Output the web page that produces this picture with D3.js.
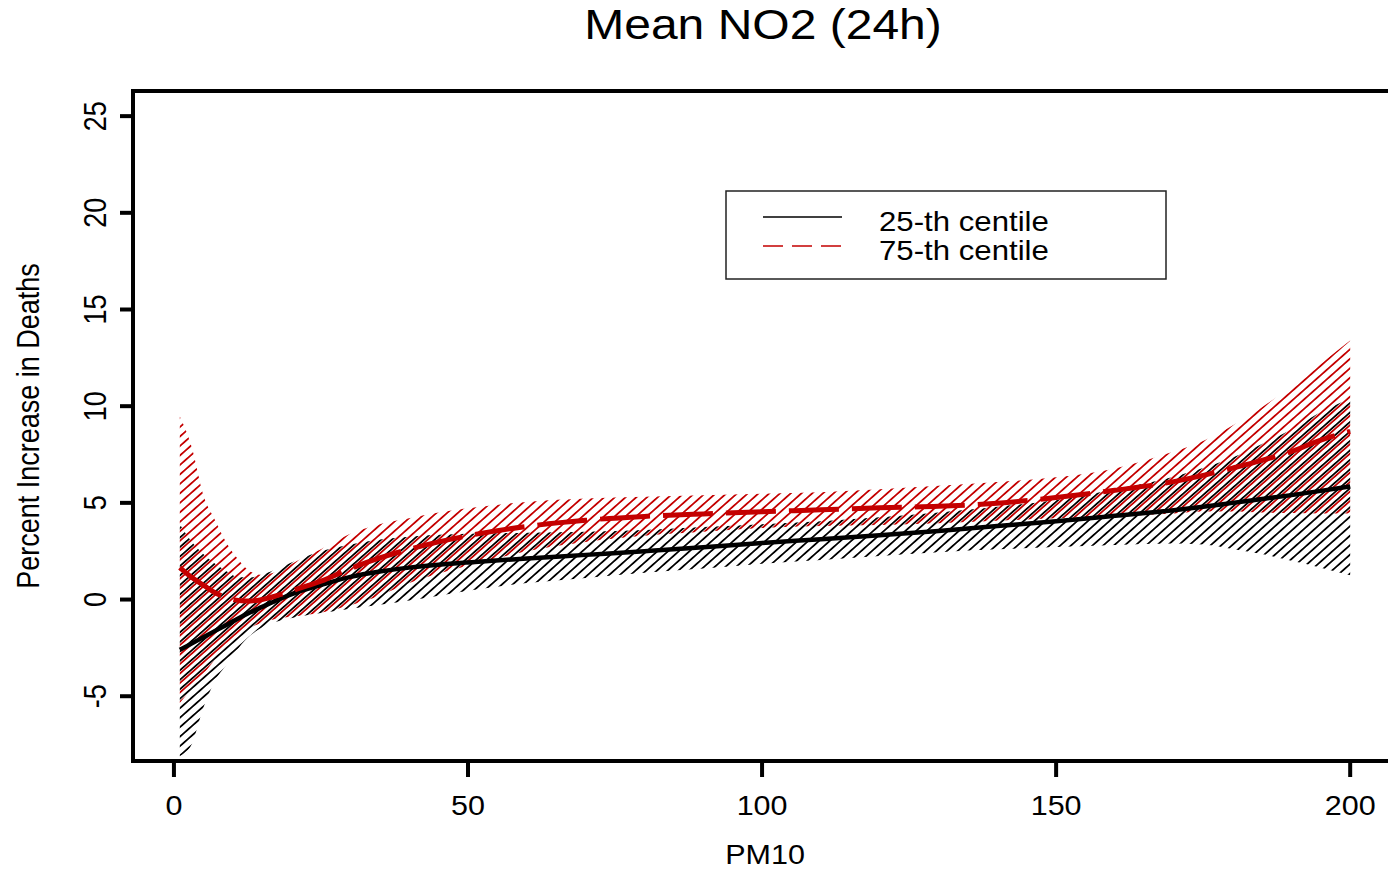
<!DOCTYPE html>
<html>
<head>
<meta charset="utf-8">
<script src="https://cdn.jsdelivr.net/npm/d3@7"></script>
<style>
  html, body { margin: 0; padding: 0; background: #fff; }
  svg { display: block; }
  text { font-family: "Liberation Sans", Arial, sans-serif; fill: #000; }
</style>
</head>
<body>
<svg id="chart" width="1388" height="870"></svg>
<script>
// ---- data ----
const pm10 = [1, 3, 5, 7, 9, 11, 13, 15, 18, 21, 25, 30, 35, 40, 45, 50, 60, 70, 80, 90, 100, 110, 120, 130, 140, 150, 160, 170, 175, 180, 185, 190, 195, 200];

// 25-th centile of NO2: estimate and confidence band
const p25 = [-2.6, -2.28, -1.95, -1.62, -1.3, -0.97, -0.66, -0.38, 0.03, 0.38, 0.75, 1.17, 1.45, 1.65, 1.8, 1.92, 2.12, 2.31, 2.5, 2.7, 2.93, 3.12, 3.33, 3.55, 3.8, 4.05, 4.33, 4.62, 4.8, 5.0, 5.2, 5.4, 5.62, 5.85];
const p25Upper = [3.9, 3.0, 2.35, 1.85, 1.45, 1.15, 1.15, 1.3, 1.65, 2.05, 2.5, 2.85, 3.1, 3.25, 3.35, 3.4, 3.45, 3.5, 3.6, 3.75, 3.9, 4.05, 4.25, 4.5, 4.8, 5.15, 5.7, 6.35, 6.8, 7.35, 8.05, 8.8, 9.7, 10.4];
const p25Lower = [-8.1, -7.5, -5.6, -4.2, -3.35, -2.5, -1.85, -1.45, -1.1, -0.9, -0.7, -0.47, -0.27, -0.05, 0.2, 0.45, 0.85, 1.12, 1.38, 1.6, 1.85, 2.05, 2.25, 2.45, 2.6, 2.72, 2.82, 2.9, 2.85, 2.62, 2.35, 2.0, 1.65, 1.25];

// 75-th centile of NO2: estimate and confidence band
const p75 = [1.65, 1.15, 0.75, 0.35, 0.1, -0.05, -0.08, 0.0, 0.25, 0.55, 0.95, 1.6, 2.15, 2.6, 2.98, 3.3, 3.78, 4.1, 4.3, 4.43, 4.54, 4.64, 4.75, 4.82, 4.98, 5.28, 5.65, 6.1, 6.42, 6.8, 7.2, 7.65, 8.25, 8.7];
const p75Upper = [9.46, 7.9, 5.4, 4.1, 2.9, 2.05, 1.45, 1.27, 1.5, 2.0, 2.6, 3.4, 3.9, 4.2, 4.5, 4.72, 5.05, 5.22, 5.32, 5.4, 5.47, 5.55, 5.7, 5.88, 6.08, 6.32, 6.78, 7.65, 8.2, 9.0, 9.95, 11.0, 12.2, 13.4];
const p75Lower = [-5.35, -4.6, -3.85, -3.1, -2.4, -1.85, -1.45, -1.2, -0.96, -0.85, -0.68, -0.3, 0.2, 0.85, 1.35, 1.75, 2.5, 2.98, 3.3, 3.5, 3.7, 3.8, 3.85, 3.95, 4.08, 4.2, 4.3, 4.45, 4.55, 4.55, 4.5, 4.47, 4.45, 4.45];

const xTicks = [0, 50, 100, 150, 200];
const yTicks = [-5, 0, 5, 10, 15, 20, 25];
const legendLabels = ["25-th centile", "75-th centile"];
const titleText = "Mean NO2 (24h)";
const xTitle = "PM10";
const yTitle = "Percent Increase in Deaths";

// ---- layout ----
const svg = d3.select("#chart");
const pLeft = 133, pRight = 1397, pTop = 91, pBottom = 761;
const RED = "#c40000";
const STRETCH = 1.13;

const x = d3.scaleLinear().domain([-6.96, 207.96]).range([pLeft, pRight]);
const y = d3.scaleLinear().domain([-8.35, 26.3]).range([pBottom, pTop]);

const defs = svg.append("defs");
defs.append("clipPath").attr("id", "plotclip")
  .append("rect").attr("x", pLeft).attr("y", pTop).attr("width", pRight - pLeft).attr("height", pBottom - pTop);

function hatch(id, color, offset) {
  const sp = 7.1;
  const p = defs.append("pattern").attr("id", id)
    .attr("patternUnits", "userSpaceOnUse")
    .attr("width", 40).attr("height", sp)
    .attr("patternTransform", `rotate(-41.5) translate(0,${offset})`);
  p.append("line").attr("x1", 0).attr("x2", 40).attr("y1", sp / 2).attr("y2", sp / 2)
    .attr("stroke", color).attr("stroke-width", 1.6);
}
hatch("hatchBlack", "#000", 0);
hatch("hatchRed", RED, 2.4);

const plot = svg.append("g").attr("clip-path", "url(#plotclip)");

const area = (lo, hi) => d3.area()
  .x((d, i) => x(pm10[i]))
  .y0((d, i) => y(lo[i]))
  .y1((d, i) => y(hi[i]))
  .curve(d3.curveMonotoneX)(pm10);

plot.append("path").attr("d", area(p25Lower, p25Upper)).attr("fill", "url(#hatchBlack)");
plot.append("path").attr("d", area(p75Lower, p75Upper)).attr("fill", "url(#hatchRed)");

const line = (vals) => d3.line()
  .x((d, i) => x(pm10[i]))
  .y((d, i) => y(vals[i]))
  .curve(d3.curveMonotoneX)(pm10);

plot.append("path").attr("d", line(p25)).attr("fill", "none")
  .attr("stroke", "#000").attr("stroke-width", 4.5);
plot.append("path").attr("d", line(p75)).attr("fill", "none")
  .attr("stroke", RED).attr("stroke-width", 5).attr("stroke-dasharray", "50,13");

// ---- frame ----
svg.append("rect").attr("x", pLeft).attr("y", pTop).attr("width", pRight - pLeft).attr("height", pBottom - pTop)
  .attr("fill", "none").attr("stroke", "#000").attr("stroke-width", 4);

// ticks
svg.selectAll(".xt").data(xTicks).enter().append("line")
  .attr("x1", d => x(d)).attr("x2", d => x(d)).attr("y1", pBottom).attr("y2", pBottom + 16)
  .attr("stroke", "#000").attr("stroke-width", 4);
svg.selectAll(".yt").data(yTicks).enter().append("line")
  .attr("y1", d => y(d)).attr("y2", d => y(d)).attr("x1", pLeft - 13).attr("x2", pLeft + 2)
  .attr("stroke", "#000").attr("stroke-width", 4);

function addText(str, tx, ty, size, anchor, rotate) {
  const g = svg.append("g").attr("transform",
    rotate ? `translate(${tx},${ty}) rotate(-90) scale(1,${STRETCH})` : `translate(${tx},${ty}) scale(${STRETCH},1)`);
  g.append("text").attr("x", 0).attr("y", 0).attr("text-anchor", anchor)
    .attr("font-size", size).text(str);
}

xTicks.forEach(d => addText(String(d), x(d), 815, 27, "middle", false));
yTicks.forEach(d => addText(String(d), 106, y(d), 27, "middle", true));

addText(titleText, (pLeft + pRight) / 2 - 2, 39, 42.5, "middle", false);
addText(xTitle, (pLeft + pRight) / 2, 864, 27, "middle", false);
addText(yTitle, 39, (pTop + pBottom) / 2, 27, "middle", true);

// ---- legend ----
const lg = svg.append("g");
lg.append("rect").attr("x", 726).attr("y", 191).attr("width", 440).attr("height", 88)
  .attr("fill", "#fff").attr("stroke", "#222").attr("stroke-width", 1.5);
const legendStyles = [{ color: "#000", dash: null }, { color: RED, dash: "20,9" }];
legendLabels.forEach((lab, i) => {
  const ly = 217 + i * 29;
  const l = lg.append("line").attr("x1", 763).attr("x2", 842).attr("y1", ly).attr("y2", ly)
    .attr("stroke", legendStyles[i].color).attr("stroke-width", 1.3);
  if (legendStyles[i].dash) l.attr("stroke-dasharray", legendStyles[i].dash);
  addText(lab, 879, ly + 14, 27.6, "start", false);
});
</script>
</body>
</html>
